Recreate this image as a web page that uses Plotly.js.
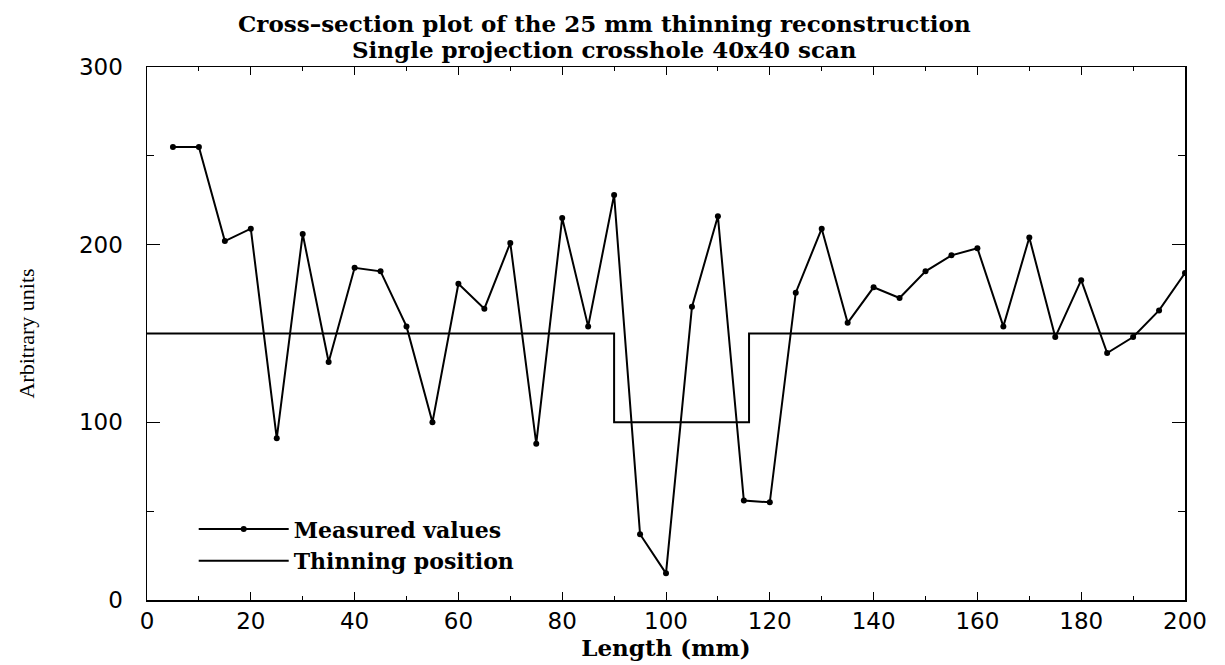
<!DOCTYPE html>
<html>
<head>
<meta charset="utf-8">
<script src="https://cdn.plot.ly/plotly-3.0.1.min.js"></script>
<style>html,body{margin:0;padding:0;background:#fff;}#chart{width:1225px;height:665px;}</style>
</head>
<body>
<div id="chart"></div>
<script>
// Measured values (Length in mm, arbitrary units)
var lengthMm = [5,10,15,20,25,30,35,40,45,50,55,60,65,70,75,80,85,90,95,100,105,110,115,120,125,130,135,140,145,150,155,160,165,170,175,180,185,190,195,200];
var measured = [255,255,202,209,91,206,134,187,185,154,100,178,164,201,88,215,154,228,37,15,165,216,56,55,173,209,156,176,170,185,194,198,154,204,148,180,139,148,163,184];
// Thinning position profile (step)
var thinX = [0,90,90,116,116,200];
var thinY = [150,150,100,100,150,150];
var titleLines = ['Cross–section plot of the 25 mm thinning reconstruction', 'Single projection crosshole 40x40 scan'];

var serif = "DejaVu Serif, Liberation Serif, serif";
var sans = "DejaVu Sans, Liberation Sans, Arial, sans-serif";

var traces = [
  {x: lengthMm, y: measured, mode: 'lines+markers', name: 'Measured values',
   line: {color: '#000', width: 2}, marker: {color: '#000', size: 6, symbol: 'circle'}},
  {x: thinX, y: thinY, mode: 'lines', name: 'Thinning position',
   line: {color: '#000', width: 2}}
];

var layout = {
  width: 1225, height: 665,
  paper_bgcolor: '#fff', plot_bgcolor: '#fff',
  margin: {l: 147, r: 40, t: 67, b: 65},
  showlegend: true,
  annotations: [
    {text: '<b>' + titleLines[0] + '</b>', xref: 'paper', yref: 'paper', x: 0.441, y: 1.0807,
     xanchor: 'center', yanchor: 'middle', showarrow: false, font: {family: serif, size: 23, color: '#000'}},
    {text: '<b>' + titleLines[1] + '</b>', xref: 'paper', yref: 'paper', x: 0.441, y: 1.0319,
     xanchor: 'center', yanchor: 'middle', showarrow: false, font: {family: serif, size: 23, color: '#000'}}
  ],
  xaxis: {range: [0, 200], dtick: 20, tick0: 0, ticks: 'inside', ticklen: 8, tickcolor: '#000', tickwidth: 1,
          minor: {dtick: 10, ticks: 'inside', ticklen: 4, tickcolor: '#000'},
          showline: true, linecolor: '#000', linewidth: 1.5, mirror: 'ticks', showgrid: false, zeroline: false,
          tickfont: {family: sans, size: 23, color: '#000'},
          title: {text: '<b>Length (mm)</b>', font: {family: serif, size: 23, color: '#000'}, standoff: 6}},
  yaxis: {range: [0, 300], dtick: 100, tick0: 0, ticks: 'inside', ticklen: 13, tickcolor: '#000', tickwidth: 1,
          minor: {dtick: 50, ticks: 'inside', ticklen: 7, tickcolor: '#000'},
          showline: true, linecolor: '#000', linewidth: 1.5, mirror: 'ticks', showgrid: false, zeroline: false,
          tickfont: {family: sans, size: 23, color: '#000'}, ticklabelstandoff: 18,
          title: {text: 'Arbitrary units', font: {family: 'Liberation Serif, serif', size: 22, color: '#000'}, standoff: 38}},
  legend: {x: 0.045, y: 0.172, xanchor: 'left', yanchor: 'top', bgcolor: 'rgba(0,0,0,0)',
           font: {family: serif, size: 22, color: '#000', weight: 'bold'}, itemwidth: 90, tracegroupgap: 0}
};

Plotly.newPlot('chart', traces, layout, {displayModeBar: false, staticPlot: true});
</script>
</body>
</html>
